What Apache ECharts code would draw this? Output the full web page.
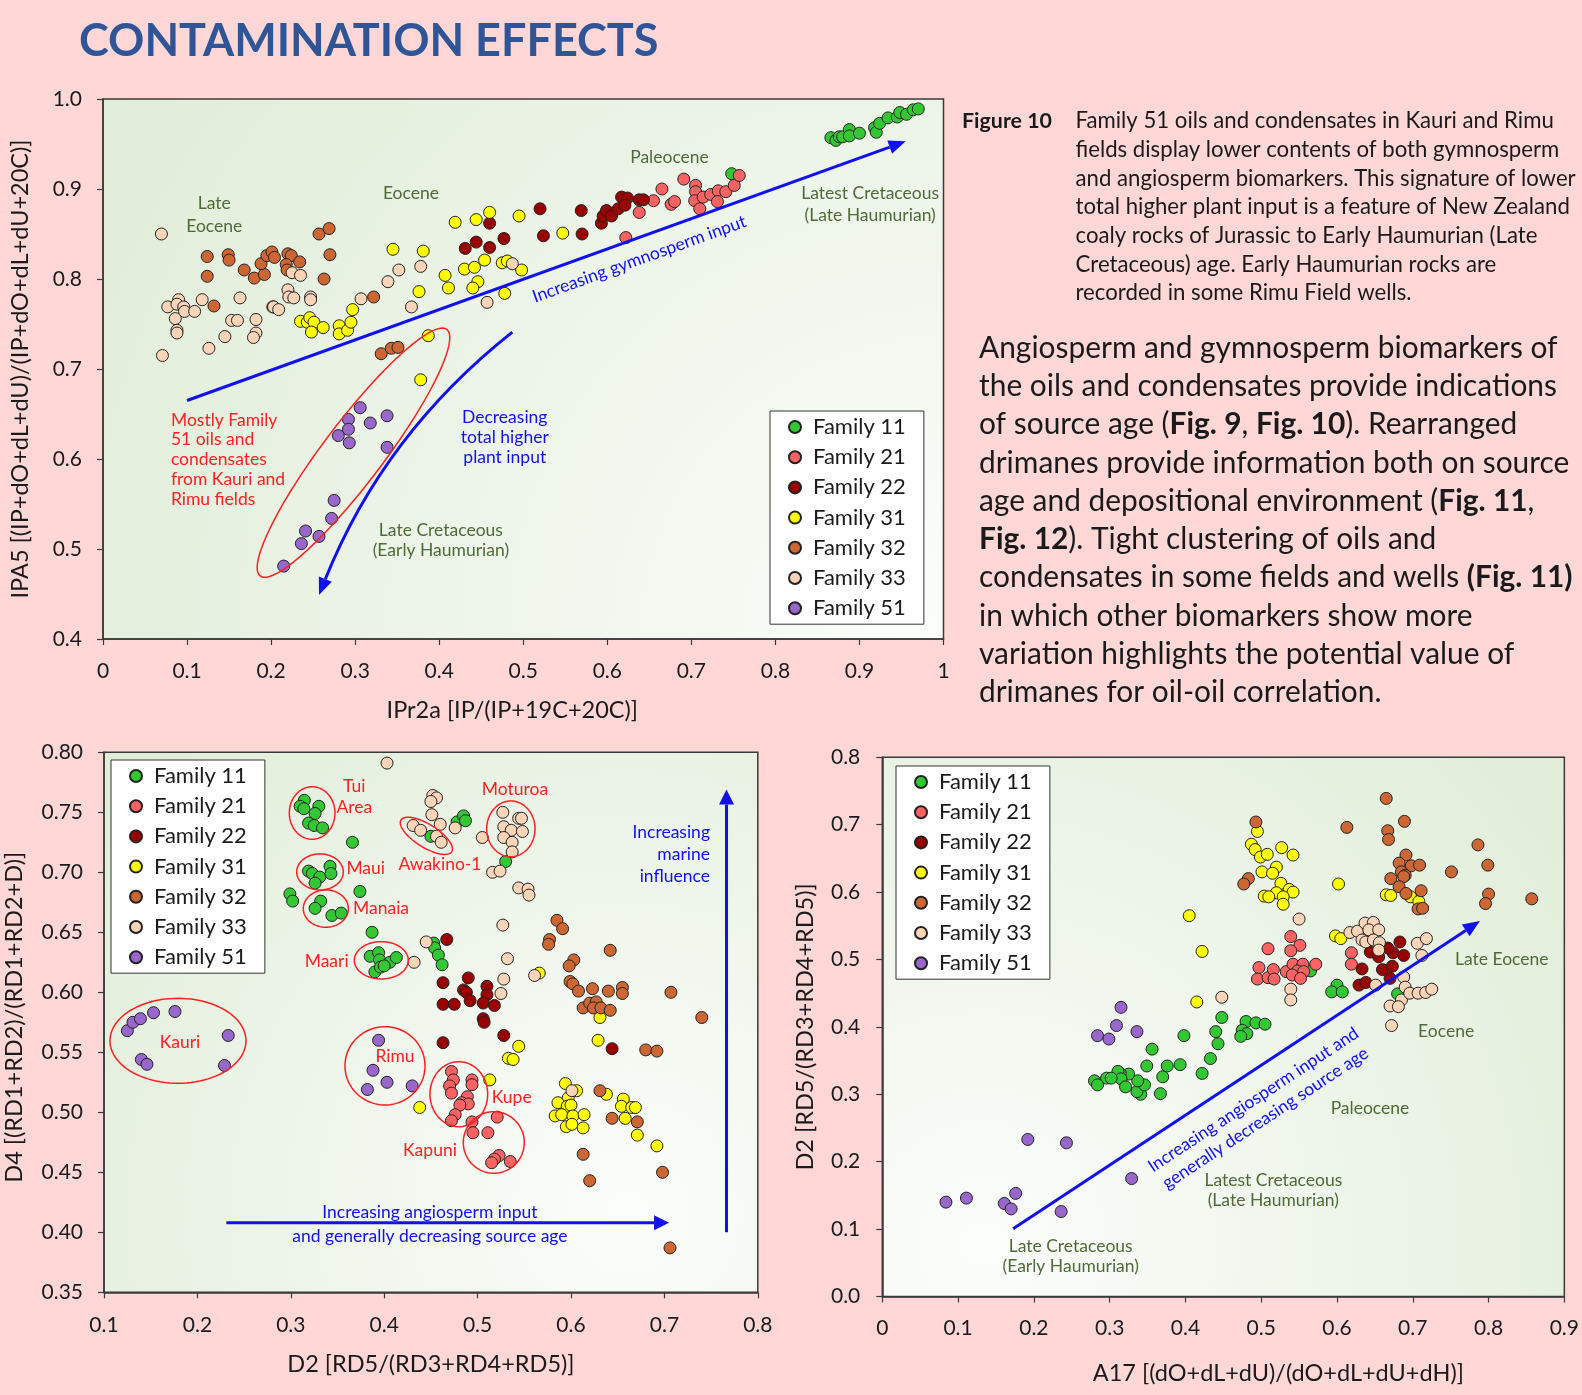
<!DOCTYPE html>
<html><head><meta charset="utf-8">
<script src="https://cdn.jsdelivr.net/npm/echarts@6/dist/echarts.min.js"></script>
<style>html,body{margin:0;padding:0;background:#ffd7d7;}#c{width:1582px;height:1395px;}</style>
</head><body><div id="c"></div><script>
const FAMILIES = ['Family 11','Family 21','Family 22','Family 31','Family 32','Family 33','Family 51'];
const COLORS = ['#34c734','#ff6262','#990000','#ffff00','#cc6633','#fcd4b8','#9966cc'];

// ---- Chart A (top): IPr2a vs IPA5
const aXTicks = ['0','0.1','0.2','0.3','0.4','0.5','0.6','0.7','0.8','0.9','1'];
const aYTicks = ['0.4','0.5','0.6','0.7','0.8','0.9','1.0'];
const a11 = [[0.748,0.917],[0.866,0.957],[0.872,0.954],[0.876,0.958],[0.880,0.958],[0.888,0.966],[0.888,0.959],[0.900,0.962],[0.918,0.968],[0.920,0.963],[0.924,0.973],[0.934,0.979],[0.945,0.980],[0.948,0.985],[0.956,0.983],[0.964,0.988],[0.970,0.989]];
const a21 = [[0.622,0.846],[0.638,0.874],[0.655,0.887],[0.665,0.900],[0.676,0.883],[0.680,0.886],[0.691,0.911],[0.705,0.904],[0.705,0.897],[0.704,0.887],[0.710,0.878],[0.714,0.891],[0.723,0.894],[0.732,0.898],[0.731,0.886],[0.741,0.897],[0.751,0.904],[0.757,0.915]];
const a22 = [[0.431,0.834],[0.444,0.841],[0.460,0.862],[0.460,0.835],[0.477,0.845],[0.520,0.878],[0.569,0.876],[0.524,0.848],[0.570,0.850],[0.593,0.862],[0.595,0.870],[0.599,0.876],[0.605,0.870],[0.613,0.878],[0.617,0.891],[0.624,0.890],[0.621,0.882],[0.638,0.888],[0.643,0.888]];
const a31 = [[0.235,0.753],[0.243,0.752],[0.246,0.757],[0.251,0.752],[0.248,0.741],[0.262,0.746],[0.281,0.748],[0.281,0.739],[0.291,0.743],[0.295,0.752],[0.297,0.766],[0.345,0.833],[0.381,0.831],[0.376,0.786],[0.387,0.737],[0.378,0.688],[0.407,0.804],[0.411,0.790],[0.419,0.863],[0.430,0.811],[0.442,0.813],[0.444,0.866],[0.460,0.874],[0.446,0.797],[0.440,0.790],[0.454,0.821],[0.475,0.818],[0.481,0.820],[0.478,0.784],[0.495,0.870],[0.498,0.810],[0.547,0.851]];
const a32 = [[0.124,0.825],[0.124,0.803],[0.132,0.770],[0.149,0.827],[0.150,0.821],[0.168,0.810],[0.180,0.801],[0.192,0.805],[0.188,0.817],[0.195,0.826],[0.201,0.830],[0.204,0.824],[0.220,0.828],[0.224,0.826],[0.218,0.816],[0.219,0.810],[0.234,0.819],[0.257,0.850],[0.269,0.856],[0.270,0.827],[0.263,0.800],[0.202,0.769],[0.322,0.780],[0.331,0.717],[0.343,0.723],[0.351,0.724]];
const a33 = [[0.0695,0.850],[0.0707,0.715],[0.090,0.777],[0.077,0.769],[0.088,0.772],[0.096,0.769],[0.097,0.764],[0.109,0.764],[0.086,0.756],[0.088,0.743],[0.088,0.740],[0.118,0.777],[0.126,0.723],[0.145,0.736],[0.153,0.754],[0.160,0.754],[0.163,0.779],[0.182,0.755],[0.182,0.740],[0.179,0.735],[0.203,0.769],[0.209,0.766],[0.220,0.788],[0.221,0.780],[0.227,0.779],[0.225,0.807],[0.235,0.804],[0.247,0.780],[0.247,0.777],[0.307,0.778],[0.339,0.797],[0.352,0.810],[0.378,0.814],[0.367,0.769],[0.457,0.774],[0.487,0.817]];
const a51 = [[0.306,0.657],[0.292,0.644],[0.292,0.633],[0.280,0.626],[0.293,0.618],[0.318,0.640],[0.338,0.648],[0.338,0.613],[0.275,0.554],[0.272,0.534],[0.241,0.520],[0.257,0.514],[0.236,0.506],[0.215,0.481]];

// ---- Chart B (bottom left): D2 vs D4
const bXTicks = ['0.1','0.2','0.3','0.4','0.5','0.6','0.7','0.8'];
const bYTicks = ['0.35','0.40','0.45','0.50','0.55','0.60','0.65','0.70','0.75','0.80'];
const b11 = [[0.3145,0.760],[0.310,0.755],[0.314,0.753],[0.330,0.755],[0.326,0.749],[0.319,0.741],[0.325,0.739],[0.334,0.737],[0.366,0.725],[0.319,0.701],[0.323,0.699],[0.331,0.696],[0.326,0.691],[0.342,0.705],[0.343,0.699],[0.299,0.682],[0.302,0.676],[0.374,0.684],[0.332,0.676],[0.326,0.670],[0.344,0.664],[0.354,0.666],[0.387,0.650],[0.385,0.630],[0.394,0.633],[0.395,0.627],[0.390,0.617],[0.396,0.621],[0.406,0.625],[0.413,0.629],[0.400,0.622],[0.453,0.641],[0.454,0.637],[0.458,0.631],[0.462,0.623],[0.478,0.742],[0.485,0.747],[0.487,0.743],[0.450,0.730],[0.530,0.709]];
const b21 = [[0.472,0.534],[0.474,0.527],[0.470,0.522],[0.472,0.516],[0.494,0.527],[0.494,0.523],[0.489,0.513],[0.483,0.508],[0.490,0.507],[0.481,0.506],[0.476,0.498],[0.472,0.493],[0.494,0.492],[0.521,0.496],[0.495,0.483],[0.511,0.483],[0.523,0.464],[0.518,0.461],[0.515,0.458],[0.535,0.459]];
const b22 = [[0.467,0.644],[0.463,0.608],[0.463,0.590],[0.475,0.590],[0.490,0.612],[0.485,0.602],[0.488,0.600],[0.492,0.593],[0.510,0.605],[0.510,0.598],[0.506,0.591],[0.518,0.589],[0.506,0.578],[0.507,0.575],[0.528,0.564],[0.463,0.558],[0.644,0.553]];
const b31 = [[0.438,0.504],[0.544,0.555],[0.533,0.545],[0.538,0.544],[0.513,0.527],[0.566,0.616],[0.631,0.579],[0.629,0.560],[0.594,0.524],[0.606,0.518],[0.597,0.512],[0.586,0.508],[0.596,0.505],[0.600,0.506],[0.583,0.497],[0.590,0.498],[0.602,0.497],[0.614,0.498],[0.595,0.488],[0.601,0.490],[0.613,0.487],[0.638,0.515],[0.656,0.511],[0.654,0.505],[0.665,0.504],[0.669,0.504],[0.658,0.495],[0.671,0.481],[0.692,0.472]];
const b32 = [[0.585,0.660],[0.591,0.653],[0.577,0.644],[0.576,0.640],[0.603,0.627],[0.598,0.622],[0.642,0.635],[0.599,0.609],[0.602,0.607],[0.608,0.601],[0.623,0.603],[0.640,0.601],[0.655,0.604],[0.655,0.599],[0.613,0.587],[0.620,0.591],[0.627,0.592],[0.624,0.587],[0.632,0.587],[0.642,0.585],[0.707,0.600],[0.740,0.579],[0.680,0.552],[0.692,0.551],[0.631,0.518],[0.644,0.495],[0.671,0.492],[0.613,0.465],[0.620,0.443],[0.698,0.450],[0.706,0.387]];
const b33 = [[0.403,0.791],[0.452,0.764],[0.456,0.762],[0.450,0.759],[0.451,0.748],[0.460,0.740],[0.431,0.739],[0.439,0.735],[0.456,0.730],[0.461,0.725],[0.476,0.737],[0.505,0.729],[0.527,0.750],[0.544,0.745],[0.547,0.745],[0.528,0.738],[0.536,0.735],[0.548,0.734],[0.528,0.729],[0.537,0.725],[0.537,0.717],[0.516,0.700],[0.524,0.701],[0.544,0.687],[0.554,0.686],[0.555,0.681],[0.527,0.656],[0.445,0.642],[0.432,0.625],[0.532,0.628],[0.528,0.611],[0.525,0.599],[0.561,0.614],[0.601,0.518]];
const b51 = [[0.125,0.568],[0.131,0.575],[0.139,0.578],[0.153,0.583],[0.176,0.584],[0.233,0.564],[0.140,0.544],[0.146,0.540],[0.229,0.539],[0.394,0.560],[0.388,0.535],[0.403,0.525],[0.382,0.519],[0.430,0.522]];

// ---- Chart C (bottom right): A17 vs D2
const cXTicks = ['0','0.1','0.2','0.3','0.4','0.5','0.6','0.7','0.8','0.9'];
const cYTicks = ['0.0','0.1','0.2','0.3','0.4','0.5','0.6','0.7','0.8'];
const c11 = [[0.448,0.414],[0.440,0.393],[0.443,0.375],[0.398,0.387],[0.356,0.367],[0.480,0.408],[0.493,0.406],[0.505,0.404],[0.475,0.395],[0.481,0.390],[0.473,0.386],[0.433,0.353],[0.422,0.331],[0.393,0.344],[0.376,0.342],[0.349,0.342],[0.370,0.326],[0.367,0.301],[0.341,0.300],[0.336,0.304],[0.346,0.314],[0.337,0.320],[0.325,0.330],[0.314,0.331],[0.311,0.334],[0.315,0.323],[0.321,0.311],[0.296,0.324],[0.302,0.324],[0.280,0.320],[0.284,0.314],[0.600,0.462],[0.593,0.452],[0.607,0.452],[0.680,0.449],[0.565,0.483]];
const c21 = [[0.539,0.534],[0.551,0.521],[0.539,0.513],[0.509,0.516],[0.497,0.488],[0.495,0.471],[0.509,0.473],[0.516,0.485],[0.517,0.471],[0.533,0.482],[0.542,0.493],[0.555,0.493],[0.548,0.483],[0.556,0.482],[0.541,0.477],[0.552,0.472],[0.572,0.493],[0.619,0.510],[0.619,0.493]];
const c22 = [[0.683,0.526],[0.674,0.510],[0.688,0.506],[0.644,0.511],[0.655,0.504],[0.667,0.517],[0.660,0.485],[0.673,0.490],[0.633,0.486],[0.670,0.472],[0.629,0.462],[0.638,0.466]];
const c31 = [[0.405,0.565],[0.422,0.512],[0.415,0.437],[0.495,0.690],[0.487,0.671],[0.492,0.663],[0.499,0.652],[0.508,0.656],[0.527,0.666],[0.542,0.655],[0.520,0.637],[0.501,0.630],[0.515,0.628],[0.526,0.613],[0.520,0.599],[0.504,0.594],[0.510,0.593],[0.537,0.604],[0.542,0.600],[0.529,0.593],[0.529,0.582],[0.602,0.612],[0.665,0.596],[0.671,0.595],[0.697,0.593],[0.708,0.586],[0.598,0.535],[0.605,0.531]];
const c32 = [[0.665,0.739],[0.689,0.705],[0.613,0.696],[0.667,0.691],[0.668,0.678],[0.493,0.704],[0.483,0.620],[0.477,0.612],[0.786,0.670],[0.799,0.640],[0.751,0.630],[0.800,0.597],[0.796,0.583],[0.857,0.590],[0.691,0.655],[0.682,0.643],[0.698,0.639],[0.709,0.640],[0.685,0.630],[0.690,0.625],[0.671,0.620],[0.688,0.623],[0.682,0.608],[0.691,0.598],[0.711,0.602],[0.707,0.575],[0.713,0.576]];
const c33 = [[0.550,0.560],[0.617,0.540],[0.627,0.542],[0.637,0.554],[0.648,0.555],[0.642,0.544],[0.655,0.544],[0.633,0.529],[0.638,0.526],[0.648,0.529],[0.656,0.525],[0.655,0.514],[0.706,0.524],[0.718,0.531],[0.712,0.506],[0.688,0.474],[0.690,0.459],[0.685,0.440],[0.670,0.431],[0.681,0.430],[0.696,0.450],[0.707,0.450],[0.717,0.451],[0.725,0.456],[0.672,0.402],[0.651,0.462],[0.448,0.444],[0.539,0.456],[0.539,0.440]];
const c51 = [[0.315,0.429],[0.309,0.402],[0.336,0.393],[0.284,0.387],[0.299,0.382],[0.192,0.233],[0.243,0.228],[0.329,0.175],[0.084,0.140],[0.111,0.146],[0.176,0.153],[0.161,0.138],[0.170,0.130],[0.236,0.126]];

const FONT = 'Lato';
const TXT = '#1a1a1a';
const RED = '#ff2020', BLUE = '#1010f0', OLIVE = '#4f6a36';

function grid(left, top, width, height, gx, gy, gr) {
  return { left, top, width, height, show: true, borderColor: '#3a3a3a', borderWidth: 1.5,
    backgroundColor: { type: 'radial', x: gx, y: gy, r: gr, colorStops: [
      { offset: 0, color: '#fbfdfa' }, { offset: 0.45, color: '#eef5ea' }, { offset: 1, color: '#dfecd6' } ] } };
}
function axis(idx, min, max, interval, ticks, name, nameGap, margin, namePad) {
  return { gridIndex: idx, type: 'value', min, max, interval, name, nameLocation: 'middle', nameGap,
    nameTextStyle: { fontFamily: FONT, fontSize: 23.5, color: TXT, padding: namePad || 0 },
    axisLine: { show: true, lineStyle: { color: '#3a3a3a', width: 1.5 } },
    axisTick: { show: true, inside: false, length: 6, lineStyle: { color: '#3a3a3a', width: 1.2 } },
    splitLine: { show: false },
    axisLabel: { margin, fontFamily: FONT, fontSize: 21, color: TXT,
      formatter: v => ticks[Math.round((v - min) / interval)] } };
}
const sets = [[a11,a21,a22,a31,a32,a33,a51],[b11,b21,b22,b31,b32,b33,b51],[c11,c21,c22,c31,c32,c33,c51]];
const series = [];
sets.forEach((arrs, g) => arrs.forEach((d, i) => series.push({
  name: FAMILIES[i], type: 'scatter', xAxisIndex: g, yAxisIndex: g, data: d, symbol: 'circle', symbolSize: 12,
  itemStyle: { color: COLORS[i], borderColor: '#222', borderWidth: 1, opacity: 1 }, z: 3, silent: true,
  emphasis: { disabled: true } })));
function legend(left, top) {
  return { data: FAMILIES, orient: 'vertical', left, top, icon: 'circle', itemWidth: 26, itemHeight: 12, itemGap: 8.2,
    padding: [5, 18, 5, 18], backgroundColor: '#ffffff', borderColor: '#333', borderWidth: 1, selectedMode: false,
    textStyle: { fontFamily: FONT, fontSize: 22, color: TXT, lineHeight: 22 } };
}
const option = {
  animation: false, backgroundColor: '#ffd7d7', textStyle: { fontFamily: FONT },
  grid: [ grid(101.5, 99, 842, 540, 1, 1, 1.9), grid(104, 752.3, 653.8, 540, 0.8, 0.85, 1.35), grid(882.3, 757.3, 686.7, 539.2, 0.15, 0.9, 1.45) ],
  xAxis: [ axis(0, 0, 1, 0.1, aXTicks, 'IPr2a [IP/(IP+19C+20C)]', 59, 22, [0, 22, 0, 0]),
           axis(1, 0.1, 0.8, 0.1, bXTicks, 'D2 [RD5/(RD3+RD4+RD5)]', 60, 22),
           axis(2, 0, 0.9, 0.1, cXTicks, 'A17 [(dO+dL+dU)/(dO+dL+dU+dH)]', 65, 21, [0, 0, 0, 110]) ],
  yAxis: [ axis(0, 0.4, 1.0, 0.1, aYTicks, 'IPA5 [(IP+dO+dL+dU)/(IP+dO+dL+dU+20C)]', 71, 21),
           axis(1, 0.35, 0.8, 0.05, bYTicks, 'D4 [(RD1+RD2)/(RD1+RD2+D)]', 78, 21, [0, 0, 0, 10]),
           axis(2, 0, 0.8, 0.1, cYTicks, 'D2 [RD5/(RD3+RD4+RD5)]', 65, 22) ],
  legend: [ legend(770, 411), legend(111, 760), legend(896, 766) ],
  series
};
const chart = echarts.init(document.getElementById('c'), null, { width: 1582, height: 1395 });
chart.setOption(option);

// ---- annotations (anchored in data coordinates)
const G = [];
const P = (g, pt) => chart.convertToPixel({ gridIndex: g }, pt);
function ellipsePoly(cx, cy, a, b, ang) {
  const pts = [];
  for (let i = 0; i < 96; i++) { const t = 2 * Math.PI * i / 96; const x = a * Math.cos(t), y = b * Math.sin(t);
    pts.push([cx + x * Math.cos(ang) - y * Math.sin(ang), cy + x * Math.sin(ang) + y * Math.cos(ang)]); }
  G.push({ type: 'polygon', z: 100, silent: true, shape: { points: pts }, style: { fill: 'none', stroke: RED, lineWidth: 1.5 } });
}
function ellBox(g, x1, x2, y1, y2) { const p1 = P(g, [x1, y1]), p2 = P(g, [x2, y2]);
  ellipsePoly((p1[0] + p2[0]) / 2, (p1[1] + p2[1]) / 2, Math.abs(p2[0] - p1[0]) / 2, Math.abs(p2[1] - p1[1]) / 2, 0); }
function ellTips(g, t1, t2, b) { const p1 = P(g, t1), p2 = P(g, t2);
  const dx = p2[0] - p1[0], dy = p2[1] - p1[1];
  ellipsePoly((p1[0] + p2[0]) / 2, (p1[1] + p2[1]) / 2, Math.hypot(dx, dy) / 2, b, Math.atan2(dy, dx)); }
function head(tip, ux, uy, len, w) {
  const bx = tip[0] - ux * len, by = tip[1] - uy * len;
  G.push({ type: 'polygon', z: 101, silent: true, shape: { points: [tip, [bx - uy * w / 2, by + ux * w / 2], [bx + uy * w / 2, by - ux * w / 2]] }, style: { fill: BLUE } });
  return [bx, by];
}
function arrow(g, from, to, len, w) {
  const p1 = P(g, from), p2 = P(g, to); const dx = p2[0] - p1[0], dy = p2[1] - p1[1], L = Math.hypot(dx, dy);
  const b = head(p2, dx / L, dy / L, len, w);
  G.push({ type: 'line', z: 100, silent: true, shape: { x1: p1[0], y1: p1[1], x2: b[0], y2: b[1] }, style: { stroke: BLUE, lineWidth: 3 } });
  return Math.atan2(-dy, dx);
}
function curveArrow(g, from, ctrl, to, len, w) {
  const p1 = P(g, from), c = P(g, ctrl), p2 = P(g, to); const dx = p2[0] - c[0], dy = p2[1] - c[1], L = Math.hypot(dx, dy);
  const b = head(p2, dx / L, dy / L, len, w);
  G.push({ type: 'bezierCurve', z: 100, silent: true, shape: { x1: p1[0], y1: p1[1], cpx1: c[0], cpy1: c[1], x2: b[0], y2: b[1] }, style: { stroke: BLUE, lineWidth: 3, fill: 'none' } });
}
function label(g, pt, text, color, size, align, lh, rot) {
  const p = P(g, pt);
  G.push({ type: 'text', z: 102, silent: true, x: p[0], y: p[1], rotation: rot || 0,
    style: { text, fill: color, font: size + 'px ' + FONT, align: align || 'center', verticalAlign: 'middle', lineHeight: lh || size + 3 } });
}

// Chart A annotations
const angA = arrow(0, [0.1, 0.665], [0.955, 0.953], 17, 14);
curveArrow(0, [0.487, 0.741], [0.334, 0.628], [0.257, 0.449], 17, 14);
ellTips(0, [0.187, 0.470], [0.409, 0.744], 30);
label(0, [0.638, 0.822], 'Increasing gymnosperm input', BLUE, 17.5, 'center', 20, angA);
label(0, [0.1324, 0.8717], 'Late\nEocene', OLIVE, 17.5, 'center', 23);
label(0, [0.3664, 0.8956], 'Eocene', OLIVE, 17.5);
label(0, [0.674, 0.9356], 'Paleocene', OLIVE, 17.5);
label(0, [0.9127, 0.8833], 'Latest Cretaceous\n(Late Haumurian)', OLIVE, 17.5, 'center', 22);
label(0, [0.402, 0.510], 'Late Cretaceous\n(Early Haumurian)', OLIVE, 17.5, 'center', 20);
label(0, [0.0808, 0.5994], 'Mostly Family\n51 oils and\ncondensates\nfrom Kauri and\nRimu fields', RED, 17.5, 'left', 19.75);
label(0, [0.478, 0.6244], 'Decreasing\ntotal higher\nplant input', BLUE, 17.5, 'center', 20);

// Chart B annotations
ellBox(1, 0.2984, 0.3473, 0.7713, 0.7275);
ellBox(1, 0.3063, 0.3562, 0.7153, 0.6853);
ellBox(1, 0.3134, 0.3616, 0.6853, 0.6542);
ellBox(1, 0.3680, 0.4258, 0.6422, 0.6111);
ellBox(1, 0.5097, 0.5615, 0.7594, 0.7130);
ellBox(1, 0.1064, 0.2520, 0.5950, 0.5242);
ellBox(1, 0.3580, 0.4437, 0.5713, 0.5061);
ellBox(1, 0.4490, 0.5108, 0.5422, 0.4880);
ellBox(1, 0.4847, 0.5500, 0.5005, 0.4492);
ellTips(1, [0.418, 0.7436], [0.4723, 0.7172], 11.5);
label(1, [0.368, 0.7628], 'Tui\nArea', RED, 17.5, 'center', 21);
label(1, [0.3802, 0.7033], 'Maui', RED, 17.5);
label(1, [0.3966, 0.670], 'Manaia', RED, 17.5);
label(1, [0.3384, 0.6255], 'Maari', RED, 17.5);
label(1, [0.4597, 0.7069], 'Awakino-1', RED, 17.5);
label(1, [0.540, 0.7694], 'Moturoa', RED, 17.5);
label(1, [0.1814, 0.5583], 'Kauri', RED, 17.5);
label(1, [0.4116, 0.5463], 'Rimu', RED, 17.5);
label(1, [0.5365, 0.5125], 'Kupe', RED, 17.5);
label(1, [0.449, 0.4686], 'Kapuni', RED, 17.5);
arrow(1, [0.231, 0.408], [0.705, 0.408], 15, 15);
arrow(1, [0.7665, 0.400], [0.7665, 0.769], 15, 15);
label(1, [0.449, 0.4069], 'Increasing angiosperm input\nand generally decreasing source age', BLUE, 17.5, 'center', 24);
label(1, [0.7488, 0.7153], 'Increasing\nmarine\ninfluence', BLUE, 17.5, 'right', 22);

// Chart C annotations
const angC = arrow(2, [0.1726, 0.1006], [0.7886, 0.557], 17, 14);
label(2, [0.4976, 0.2782], 'Increasing angiosperm input and\ngenerally decreasing source age', BLUE, 17.5, 'center', 22, angC);
label(2, [0.8174, 0.5003], 'Late Eocene', OLIVE, 17.5);
label(2, [0.744, 0.3929], 'Eocene', OLIVE, 17.5);
label(2, [0.6435, 0.2792], 'Paleocene', OLIVE, 17.5);
label(2, [0.516, 0.157], 'Latest Cretaceous\n(Late Haumurian)', OLIVE, 17.5, 'center', 20);
label(2, [0.2486, 0.0601], 'Late Cretaceous\n(Early Haumurian)', OLIVE, 17.5, 'center', 20);

// Page texts
G.push({ type: 'text', x: 79, y: 41, silent: true, style: { text: 'CONTAMINATION EFFECTS', fill: '#2f5597', font: 'bold 45px ' + FONT, align: 'left', verticalAlign: 'middle' } });
const captionLines = ['Family 51 oils and condensates in Kauri and Rimu', 'fields display lower contents of both gymnosperm', 'and angiosperm biomarkers. This signature of lower', 'total higher plant input is a feature of New Zealand', 'coaly rocks of Jurassic to Early Haumurian (Late', 'Cretaceous) age. Early Haumurian rocks are', 'recorded in some Rimu Field wells.'];
G.push({ type: 'text', x: 962, y: 121, silent: true, style: { text: 'Figure 10', fill: TXT, font: 'bold 21.4px ' + FONT, align: 'left', verticalAlign: 'middle' } });
captionLines.forEach((t, i) => G.push({ type: 'text', x: 1075.5, y: 121 + i * 28.7, silent: true, style: { text: t, fill: TXT, font: '22.2px ' + FONT, align: 'left', verticalAlign: 'middle' } }));
const paraLines = ['{n|Angiosperm and gymnosperm biomarkers of}', '{n|the oils and condensates provide indications}', '{n|of source age (}{b|Fig. 9}{n|, }{b|Fig. 10}{n|). Rearranged}', '{n|drimanes provide information both on source}', '{n|age and depositional environment (}{b|Fig. 11}{n|,}', '{b|Fig. 12}{n|). Tight clustering of oils and}', '{n|condensates in some fields and wells }{b|(Fig. 11)}', '{n|in which other biomarkers show more}', '{n|variation highlights the potential value of}', '{n|drimanes for oil-oil correlation.}'];
paraLines.forEach((t, i) => G.push({ type: 'text', x: 979, y: 348 + i * 38.3, silent: true, style: { text: t, align: 'left', verticalAlign: 'middle',
  rich: { n: { fontFamily: FONT, fontSize: 29.9, fill: TXT, color: TXT }, b: { fontFamily: FONT, fontSize: 29.9, fontWeight: 'bold', fill: TXT, color: TXT } } } }));

chart.setOption({ graphic: { elements: G } });
</script></body></html>
